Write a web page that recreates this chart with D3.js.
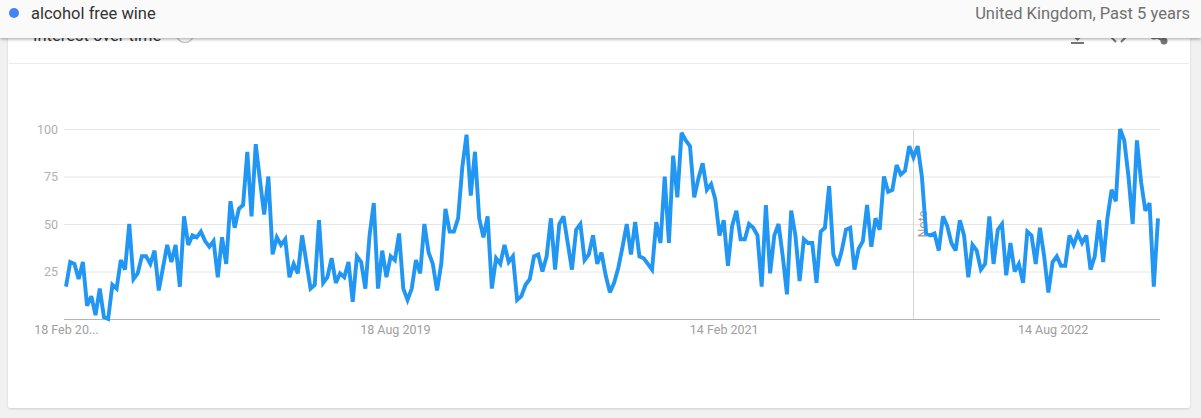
<!DOCTYPE html>
<html>
<head>
<meta charset="utf-8">
<script src="https://cdn.jsdelivr.net/npm/d3@7"></script>
<style>
    body { margin: 0; background: #f1f1f1; font-family: Roboto, "Noto Sans", sans-serif; }
    svg { display: block; }
</style>
</head>
<body>
<div id="trendChart"></div>
<script>
// search term and region text
var term = "alcohol free wine";
var region = "United Kingdom, Past 5 years";
var title = "Interest over time";

// weekly data, first week starts 18 Feb 2018
var startDate = new Date(2018, 1, 18);
var interest = [
    17, 30, 29, 21, 30, 7, 12, 2, 16, 1, 0, 18, 16, 31, 26, 50, 21, 24, 33, 33,
    29, 36, 15, 27, 39, 30, 39, 17, 54, 39, 44, 43, 46, 41, 38, 41, 22,
    43, 29, 62, 48, 58, 60, 88, 54, 92, 73, 55, 75, 34, 43, 39, 42, 22, 29, 24,
    44, 30, 16, 18, 52, 19, 22, 32, 19, 24, 22, 30, 9, 33, 30, 16, 44, 61, 16,
    36, 22, 33, 31, 45,
    16, 10, 16, 31, 24, 50, 35, 29, 15, 29, 58, 46, 46, 53, 80, 97, 65, 88, 53,
    43, 54, 16, 32, 29, 39, 30, 33, 10, 12, 18, 21, 33, 34, 25, 33, 53, 26, 50,
    54, 40, 26, 47, 50, 31, 34, 44, 29,
    35, 23, 14, 19, 27, 38, 50, 34, 51, 33, 32, 29, 26, 51, 40, 75, 40, 86, 64,
    98, 94, 91, 64, 74, 82, 68, 71, 63, 44, 52, 28, 49, 57, 42, 42, 50, 48, 44,
    17, 60, 24, 44, 50, 33, 13,
    57, 44, 20, 42, 40, 40, 19, 46, 48, 70, 34, 28, 36, 47, 48, 26, 37, 41, 60,
    38, 53, 47, 75, 67, 68, 81, 76, 78, 91, 85, 91, 75, 45, 44, 45, 36, 54, 49,
    40, 36, 52, 44, 22, 39, 36,
    26, 29, 54, 29, 47, 50, 23, 40, 25, 29, 19, 46, 44, 29, 48, 33, 14, 30, 33,
    28, 28, 44, 39, 45, 40, 44, 26, 33, 52, 30, 53, 68, 62, 100, 94, 75, 50, 94,
    72, 57, 61, 17, 53
];

// x axis ticks (week offsets) and their labels
var tickWeeks = [0, 78, 156, 234];
var tickLabels = ["18 Feb 20...", "18 Aug 2019", "14 Feb 2021", "14 Aug 2022"];
var yTicks = [25, 50, 75, 100];

// week of the "Note" marker
var noteWeek = 201;

function init() {
    var w = 1201;
    var h = 418;
    var left = 66;
    var right = 1158;
    var top = 129;
    var bottom = 319;

    var data = interest.map((v, i) => ({ date: d3.timeWeek.offset(startDate, i), value: v }));

    var svg = d3.select("#trendChart")
        .append("svg")
        .attr("width", w)
        .attr("height", h);

    var defs = svg.append("defs");
    var shadow = defs.append("filter")
        .attr("id", "barShadow")
        .attr("x", "-5%").attr("y", "-50%")
        .attr("width", "110%").attr("height", "200%");
    shadow.append("feDropShadow")
        .attr("dx", 0).attr("dy", 1.5)
        .attr("stdDeviation", 1.5)
        .attr("flood-color", "#000")
        .attr("flood-opacity", 0.3);
    var cardShadow = defs.append("filter")
        .attr("id", "cardShadow")
        .attr("x", "-5%").attr("y", "-5%")
        .attr("width", "110%").attr("height", "110%");
    cardShadow.append("feDropShadow")
        .attr("dx", 0).attr("dy", 1)
        .attr("stdDeviation", 1)
        .attr("flood-color", "#000")
        .attr("flood-opacity", 0.15);

    // page background and card
    svg.append("rect")
        .attr("width", w).attr("height", h)
        .attr("fill", "#f1f1f1");

    svg.append("rect")
        .attr("x", 8).attr("y", 10)
        .attr("width", 1182).attr("height", 398)
        .attr("rx", 3)
        .attr("fill", "#fff")
        .attr("filter", "url(#cardShadow)");

    // card header (mostly covered by the top bar)
    svg.append("text")
        .attr("x", 33).attr("y", 41)
        .attr("font-size", 16.5)
        .attr("fill", "#333")
        .text(title);

    svg.append("circle")
        .attr("cx", 185).attr("cy", 34).attr("r", 8.5)
        .attr("fill", "none")
        .attr("stroke", "#c8c8c8")
        .attr("stroke-width", 1.5);

    var icons = svg.append("g")
        .attr("fill", "none")
        .attr("stroke", "#757575")
        .attr("stroke-width", 2);
    icons.append("line")
        .attr("x1", 1071).attr("x2", 1084)
        .attr("y1", 43).attr("y2", 43);
    icons.append("path")
        .attr("d", "M1077.5,28 V39 M1073,35 L1077.5,39.5 L1082,35");
    icons.append("path")
        .attr("d", "M1116,34 L1112,38 L1116,42 M1121,34 L1125,38 L1121,42");
    icons.append("circle")
        .attr("cx", 1164).attr("cy", 41).attr("r", 2.5)
        .attr("fill", "#757575");
    icons.append("circle")
        .attr("cx", 1154).attr("cy", 36).attr("r", 2.5)
        .attr("fill", "#757575");
    icons.append("path")
        .attr("d", "M1154,36 L1164,41");

    svg.append("line")
        .attr("x1", 9).attr("x2", 1189)
        .attr("y1", 63.5).attr("y2", 63.5)
        .attr("stroke", "#ececec");

    // scales
    var xScale = d3.scaleTime()
        .domain([data[0].date, data[data.length - 1].date])
        .range([left, right]);

    var yScale = d3.scaleLinear()
        .domain([0, 100])
        .range([bottom, top]);

    // grid lines
    svg.append("g")
        .selectAll("line")
        .data(yTicks)
        .enter()
        .append("line")
        .attr("x1", left - 2)
        .attr("x2", right + 2)
        .attr("y1", d => yScale(d) + 0.5)
        .attr("y2", d => yScale(d) + 0.5)
        .attr("stroke", "#e6e6e6");

    // y axis labels
    var yAxis = d3.axisLeft(yScale)
        .tickValues(yTicks)
        .tickSize(0)
        .tickPadding(8);

    var yG = svg.append("g")
        .attr("transform", `translate(${left}, 0)`)
        .call(yAxis);
    yG.select(".domain").remove();
    yG.selectAll("text")
        .attr("font-family", "Roboto, sans-serif")
        .attr("font-size", 12.5)
        .attr("fill", "#b0b0b0");

    // x axis
    var xAxis = d3.axisBottom(xScale)
        .tickValues(tickWeeks.map(k => d3.timeWeek.offset(startDate, k)))
        .tickFormat((d, i) => tickLabels[i])
        .tickSize(0)
        .tickPadding(6);

    var xG = svg.append("g")
        .attr("transform", `translate(0, ${bottom + 0.5})`)
        .call(xAxis);
    xG.select(".domain")
        .attr("d", `M${left - 2},0H${right + 2}`)
        .attr("stroke", "#b4b4b4");
    xG.selectAll("text")
        .attr("font-family", "Roboto, sans-serif")
        .attr("font-size", 12.5)
        .attr("fill", "#9e9e9e");

    // note marker
    var noteX = Math.round(xScale(d3.timeWeek.offset(startDate, noteWeek))) + 0.5;
    svg.append("line")
        .attr("x1", noteX).attr("x2", noteX)
        .attr("y1", top).attr("y2", bottom)
        .attr("stroke", "#d6d6d6");
    svg.append("text")
        .attr("transform", `translate(${noteX + 13}, 224) rotate(-90)`)
        .attr("text-anchor", "middle")
        .attr("font-size", 12.5)
        .attr("fill", "#9e9e9e")
        .text("Note");

    // interest line
    var line = d3.line()
        .x(d => xScale(d.date))
        .y(d => yScale(d.value));

    svg.append("path")
        .datum(data)
        .attr("d", line)
        .attr("fill", "none")
        .attr("stroke", "#2196f3")
        .attr("stroke-width", 3.9)
        .attr("stroke-linejoin", "miter")
        .attr("stroke-miterlimit", 3);

    // top bar with the search term
    var bar = svg.append("g");
    bar.append("rect")
        .attr("width", w).attr("height", 38)
        .attr("fill", "#fafafa")
        .attr("filter", "url(#barShadow)");
    bar.append("circle")
        .attr("cx", 14).attr("cy", 13).attr("r", 5)
        .attr("fill", "#4285f4");
    bar.append("text")
        .attr("x", 31).attr("y", 19)
        .attr("font-size", 16.5)
        .attr("fill", "#333")
        .text(term);
    bar.append("text")
        .attr("x", 1190).attr("y", 19)
        .attr("text-anchor", "end")
        .attr("font-size", 16.5)
        .attr("fill", "#707070")
        .text(region);
}

window.onload = init;
</script>
</body>
</html>
